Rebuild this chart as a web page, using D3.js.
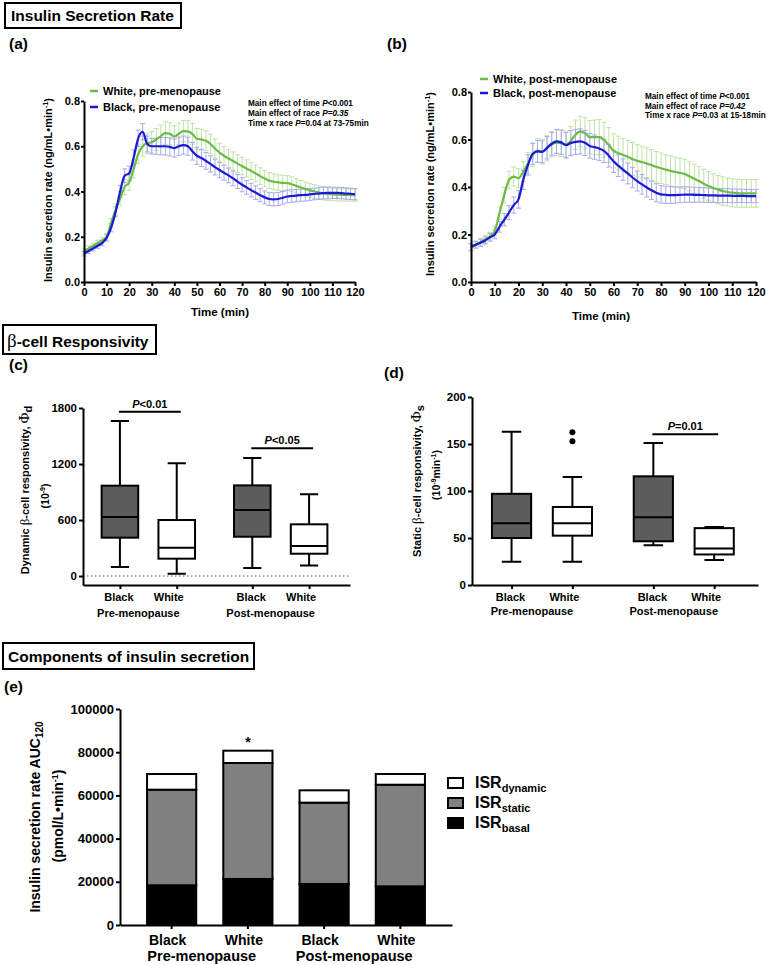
<!DOCTYPE html>
<html>
<head>
<meta charset="utf-8">
<script src="https://cdn.jsdelivr.net/npm/d3@7"></script>
<style>
body { margin: 0; background: #fff; }
</style>
</head>
<body>
<svg id="fig" width="774" height="965"></svg>
<script>

// ---- data ----
const times = [0,2,4,6,8,10,12,14,16,18,20,22,24,26,28,30,32,34,36,38,40,42,44,46,48,50,52,54,56,58,60,
  62,64,66,68,70,72,74,76,78,80,82,84,86,88,90,92,94,96,98,100,102,104,106,108,110,112,114,116,118,120];

// (a) pre-menopause, ng/mL/min, mean and SEM
const preWhite = [.135,.148,.160,.172,.184,.200,.260,.320,.370,.420,.440,.500,.565,.600,.613,.618,.630,.645,.658,.655,.643,
  .655,.667,.666,.655,.633,.630,.624,.610,.590,.572,.558,.546,.535,.523,.512,.502,.491,.480,.468,.457,
  .448,.443,.440,.438,.437,.432,.425,.418,.411,.405,.400,.396,.392,.389,.387,.386,.385,.385,.384,.384];
const preWhiteSem = [.012,.012,.012,.013,.013,.015,.020,.025,.030,.034,.036,.040,.042,.044,.046,.047,.048,.049,.050,.049,.048,
  .047,.047,.047,.046,.046,.045,.044,.043,.042,.041,.041,.040,.040,.039,.039,.038,.038,.037,.037,.036,
  .035,.035,.034,.034,.033,.033,.032,.031,.031,.030,.030,.029,.029,.028,.028,.028,.027,.027,.027,.027];
const preBlack = [.125,.137,.148,.160,.172,.195,.240,.310,.400,.470,.480,.550,.635,.664,.610,.600,.600,.600,.600,.597,.592,
  .600,.605,.600,.578,.558,.548,.535,.522,.508,.495,.483,.471,.458,.444,.430,.418,.406,.395,.384,.374,
  .367,.365,.367,.372,.378,.380,.382,.384,.385,.387,.389,.391,.393,.394,.394,.394,.393,.391,.390,.388];
const preBlackSem = [.010,.010,.011,.011,.012,.014,.018,.022,.027,.030,.032,.034,.036,.036,.035,.034,.036,.038,.039,.040,.040,
  .040,.040,.040,.039,.038,.038,.037,.036,.035,.034,.033,.032,.032,.031,.031,.030,.030,.030,.029,.029,
  .029,.029,.029,.028,.028,.028,.027,.027,.027,.026,.026,.026,.026,.026,.025,.025,.025,.025,.025,.025];

// (b) post-menopause
const postWhite = [.145,.157,.168,.180,.192,.215,.290,.366,.430,.444,.437,.465,.500,.535,.553,.549,.563,.580,.587,.584,.577,
  .594,.620,.634,.627,.610,.610,.610,.598,.577,.552,.543,.535,.527,.518,.510,.505,.499,.492,.485,.479,
  .473,.468,.463,.459,.455,.445,.435,.425,.414,.404,.396,.389,.383,.379,.376,.374,.373,.373,.373,.373];
const postWhiteSem = [.015,.015,.016,.016,.017,.020,.026,.032,.037,.040,.040,.042,.045,.048,.050,.052,.053,.054,.055,.056,.058,
  .060,.062,.064,.066,.070,.072,.074,.074,.073,.072,.071,.070,.070,.069,.068,.067,.066,.065,.064,.064,
  .063,.063,.062,.062,.062,.061,.061,.061,.061,.060,.060,.060,.060,.059,.059,.059,.058,.058,.058,.058];
const postBlack = [.148,.157,.165,.175,.188,.200,.232,.262,.292,.324,.348,.430,.493,.540,.550,.548,.565,.582,.592,.588,.577,
  .585,.590,.592,.586,.573,.568,.562,.552,.532,.508,.490,.473,.457,.440,.425,.411,.398,.386,.376,.369,
  .367,.366,.366,.367,.368,.368,.367,.367,.366,.365,.365,.364,.364,.364,.363,.363,.363,.362,.362,.362];
const postBlackSem = [.014,.014,.015,.015,.016,.018,.022,.026,.030,.034,.037,.040,.043,.045,.046,.046,.047,.048,.050,.051,.052,
  .053,.053,.053,.053,.052,.051,.050,.049,.048,.047,.046,.045,.044,.043,.042,.041,.040,.039,.038,.037,
  .036,.035,.034,.033,.033,.032,.032,.031,.031,.030,.030,.030,.029,.029,.029,.028,.028,.028,.028,.028];

// (c) and (d) box plots: Black pre, White pre, Black post, White post
const boxRace = ["Black", "White", "Black", "White"];
const boxStage = ["Pre-menopause", "Post-menopause"];
const dynMin = [96, 25, 86, 114];
const dynQ1  = [411, 186, 421, 239];
const dynMed = [632, 304, 707, 321];
const dynQ3  = [968, 600, 971, 554];
const dynMax = [1661, 1207, 1264, 875];
const statMin = [24.7, 24.7, 42.3, 26.5];
const statQ1  = [50, 52.5, 46.5, 32.5];
const statMed = [65.8, 65.8, 72, 38.8];
const statQ3  = [97, 83, 115.6, 60.5];
const statMax = [163, 115, 151, 61.6];
const statOutliers = [[], [152.8, 162.6], [], []];
const dynSig = [{a: 0, b: 1, y: 1760, txt: "<0.01"}, {a: 2, b: 3, y: 1368, txt: "<0.05"}];
const statSig = [{a: 2, b: 3, y: 160.5, txt: "=0.01"}];

// (e) AUC components, pmol/L/min
const barGroups = ["Black pre", "White pre", "Black post", "White post"];
const isrBasal   = [18400, 21300, 19000, 17900];
const isrStatic  = [44250, 53700, 37650, 47050];
const isrDynamic = [7250, 5700, 5700, 4950];

// ---- drawing ----
const FONT = "'Liberation Sans', Arial, sans-serif";
const SERIF = "'Liberation Serif', 'Times New Roman', serif";
const GREEN = "#6cbb45", GREEN_LT = "#bfe3a6";
const BLUE = "#1a1ad2", BLUE_LT = "#a8a8f2";

const svg = d3.select("#fig").attr("font-family", FONT);
svg.append("rect").attr("width", 774).attr("height", 965).attr("fill", "#fff");

function rich(sel, parts) {
    let shift = 0;
    parts.forEach(p => {
        let target = p.sub ? (p.shift || 3) : p.sup ? -(p.shift || 4) : 0;
        let ts = sel.append("tspan").text(p.t).attr("dy", target - shift);
        shift = target;
        if (p.size) ts.attr("font-size", p.size);
        if (p.italic) ts.attr("font-style", "italic");
        if (p.serif) ts.attr("font-family", SERIF);
        if (p.weight) ts.attr("font-weight", p.weight);
    });
    return sel;
}

function styleAxis(g, size) {
    g.attr("font-family", FONT);
    g.selectAll("path.domain").attr("stroke", "#000").attr("stroke-width", 2);
    g.selectAll(".tick line").attr("stroke", "#000").attr("stroke-width", 2);
    g.selectAll(".tick text").attr("fill", "#000").attr("font-weight", "bold").attr("font-size", size);
}

function titleBox(x, y, w, h, tx, ty, parts) {
    svg.append("rect").attr("x", x).attr("y", y).attr("width", w).attr("height", h)
        .attr("fill", "none").attr("stroke", "#000").attr("stroke-width", 2);
    rich(svg.append("text").attr("x", tx).attr("y", ty).attr("font-weight", "bold").attr("font-size", 15.5), parts);
}

function panelLabel(x, y, s) {
    svg.append("text").attr("x", x).attr("y", y).attr("font-weight", "bold").attr("font-size", 15.5).text(s);
}

function yTitle(x, cy, size, weight, parts) {
    rich(svg.append("text").attr("transform", `translate(${x},${cy}) rotate(-90)`)
        .attr("text-anchor", "middle").attr("font-size", size).attr("font-weight", weight), parts);
}

// ----- ISR time courses -----
function drawIsr(o) {
    let x = d3.scaleLinear().domain([0, 120]).range(o.xr);
    let y = d3.scaleLinear().domain([0, 0.8]).range(o.yr);
    let g = svg.append("g");

    o.series.forEach(s => {
        g.append("path").attr("fill", "none").attr("stroke", s.light).attr("stroke-width", 1)
            .attr("d", times.map((t, i) => {
                let xx = x(t), lo = y(s.mean[i] - s.sem[i]), hi = y(s.mean[i] + s.sem[i]);
                return `M${xx},${lo}V${hi}M${xx - 2.5},${lo}H${xx + 2.5}M${xx - 2.5},${hi}H${xx + 2.5}`;
            }).join(""));
    });
    o.series.forEach(s => {
        g.append("path").datum(s.mean).attr("fill", "none").attr("stroke", s.color).attr("stroke-width", 2.2)
            .attr("d", d3.line().x((d, i) => x(times[i])).y(d => y(d)).curve(d3.curveMonotoneX));
    });

    let ax = g.append("g").attr("transform", `translate(0,${o.yr[0]})`)
        .call(d3.axisBottom(x).tickValues(d3.range(0, 121, 10)).tickSize(4).tickSizeOuter(0).tickPadding(2));
    styleAxis(ax, 11);
    let ay = g.append("g").attr("transform", `translate(${o.xr[0]},0)`)
        .call(d3.axisLeft(y).tickValues([0, 0.2, 0.4, 0.6, 0.8]).tickFormat(d3.format(".1f"))
            .tickSize(3).tickSizeOuter(0).tickPadding(1));
    styleAxis(ay, 11);

    g.append("text").attr("x", o.timeX).attr("y", o.timeY).attr("text-anchor", "middle")
        .attr("font-weight", "bold").attr("font-size", 11.5).text("Time (min)");
    yTitle(o.titleX, o.titleY, 11, "bold", [{t: "Insulin secretion rate (ng/mL\u2022min"}, {t: "-1", sup: true, size: 7.5}, {t: ")"}]);

    // legend
    o.series.forEach((s, i) => {
        let ly = o.legY[i];
        g.append("line").attr("x1", o.legX).attr("x2", o.legX + 8).attr("y1", ly).attr("y2", ly)
            .attr("stroke", s.color).attr("stroke-width", 2.5);
        g.append("text").attr("x", o.legX + 13).attr("y", ly + 4).attr("font-weight", "bold")
            .attr("font-size", 11).text(s.name);
    });

    // statistics note
    o.notes.forEach((parts, i) => {
        rich(g.append("text").attr("x", o.noteX).attr("y", o.noteY[i]).attr("font-weight", "bold").attr("font-size", 8.2), parts);
    });
}

titleBox(5, 3, 176, 25, 11, 21, [{t: "Insulin Secretion Rate"}]);
panelLabel(9, 49, "(a)");
panelLabel(387, 49, "(b)");

drawIsr({
    xr: [84, 355], yr: [282, 101],
    series: [
        {name: "White, pre-menopause", mean: preWhite, sem: preWhiteSem, color: GREEN, light: GREEN_LT},
        {name: "Black, pre-menopause", mean: preBlack, sem: preBlackSem, color: BLUE, light: BLUE_LT}
    ],
    timeX: 220, timeY: 316, titleX: 52, titleY: 190,
    legX: 90, legY: [91, 107],
    noteX: 248, noteY: [106, 116, 126],
    notes: [
        [{t: "Main effect of time "}, {t: "P", italic: true}, {t: "<0.001"}],
        [{t: "Main effect of race "}, {t: "P=0.35", italic: true}],
        [{t: "Time x race "}, {t: "P", italic: true}, {t: "=0.04 at 73-75min"}]
    ]
});

drawIsr({
    xr: [471, 756], yr: [282, 92],
    series: [
        {name: "White, post-menopause", mean: postWhite, sem: postWhiteSem, color: GREEN, light: GREEN_LT},
        {name: "Black, post-menopause", mean: postBlack, sem: postBlackSem, color: BLUE, light: BLUE_LT}
    ],
    timeX: 601, timeY: 320, titleX: 434, titleY: 184,
    legX: 480, legY: [79, 93],
    noteX: 645, noteY: [99, 108.5, 118],
    notes: [
        [{t: "Main effect of time "}, {t: "P", italic: true}, {t: "<0.001"}],
        [{t: "Main effect of race "}, {t: "P=0.42", italic: true}],
        [{t: "Time x race "}, {t: "P", italic: true}, {t: "=0.03 at 15-18min"}]
    ]
});

// ----- box plots -----
const boxPos = [1, 2, 3.33, 4.33];

function drawBoxes(o) {
    let x = d3.scaleLinear().domain([0.35, 5.05]).range(o.xr);
    let y = d3.scaleLinear().domain(o.yDomain).range(o.yr);
    let g = svg.append("g");
    let half = 0.322, capHalf = 0.16;

    if (o.zeroLine) {
        g.append("line").attr("x1", o.xr[0]).attr("x2", o.xr[1]).attr("y1", y(0)).attr("y2", y(0))
            .attr("stroke", "#555").attr("stroke-width", 1).attr("stroke-dasharray", "1.5,2.5");
    }

    boxPos.forEach((p, i) => {
        let cx = x(p);
        let w = x(p + half) - cx, cw = x(p + capHalf) - cx;
        let fill = boxRace[i] === "Black" ? "#5c5c5c" : "#fff";
        g.append("path").attr("stroke", "#000").attr("stroke-width", 2).attr("fill", "none")
            .attr("d", `M${cx},${y(o.q3[i])}V${y(o.max[i])}M${cx - cw},${y(o.max[i])}H${cx + cw}` +
                `M${cx},${y(o.q1[i])}V${y(o.min[i])}M${cx - cw},${y(o.min[i])}H${cx + cw}`);
        g.append("rect").attr("x", cx - w).attr("width", 2 * w)
            .attr("y", y(o.q3[i])).attr("height", y(o.q1[i]) - y(o.q3[i]))
            .attr("fill", fill).attr("stroke", "#000").attr("stroke-width", 2);
        g.append("line").attr("x1", cx - w).attr("x2", cx + w).attr("y1", y(o.med[i])).attr("y2", y(o.med[i]))
            .attr("stroke", "#000").attr("stroke-width", 2);
        (o.outliers ? o.outliers[i] : []).forEach(v => {
            g.append("circle").attr("cx", cx).attr("cy", y(v)).attr("r", 3).attr("fill", "#000");
        });
        let off = boxRace[i] === "Black" ? -1 : -8;
        g.append("text").attr("x", cx + off).attr("y", 601).attr("text-anchor", "middle")
            .attr("font-weight", "bold").attr("font-size", 11).text(boxRace[i]);
    });

    boxStage.forEach((s, k) => {
        let mid = (x(boxPos[2 * k]) + x(boxPos[2 * k + 1])) / 2 - 10;
        g.append("text").attr("x", mid).attr("y", o.stageY).attr("text-anchor", "middle")
            .attr("font-weight", "bold").attr("font-size", 11).text(s);
    });

    o.sig.forEach(s => {
        let x1 = x(boxPos[s.a]) - 1, x2 = x(boxPos[s.b]) + 4;
        g.append("line").attr("x1", x1).attr("x2", x2).attr("y1", y(s.y)).attr("y2", y(s.y))
            .attr("stroke", "#000").attr("stroke-width", 2);
        rich(g.append("text").attr("x", (x1 + x2) / 2).attr("y", y(s.y) - 4).attr("text-anchor", "middle")
            .attr("font-weight", "bold").attr("font-size", 11), [{t: "P", italic: true}, {t: s.txt}]);
    });

    let ax = g.append("g").attr("transform", `translate(0,${o.yr[0]})`)
        .call(d3.axisBottom(x).tickValues(boxPos).tickFormat("").tickSize(4).tickSizeOuter(0));
    styleAxis(ax, 11);
    let ay = g.append("g").attr("transform", `translate(${o.xr[0]},0)`)
        .call(d3.axisLeft(y).tickValues(o.ticks).tickFormat(d3.format("d"))
            .tickSize(4).tickSizeOuter(0).tickPadding(2));
    styleAxis(ay, 11.5);
}

titleBox(3, 325, 153, 29, 7, 347, [{t: "\u03b2", serif: true, size: 19, weight: "normal"}, {t: "-cell Responsivity"}]);
panelLabel(9, 370, "(c)");
panelLabel(384, 378, "(d)");

drawBoxes({
    xr: [83, 350], yr: [585, 408], yDomain: [-96, 1800], ticks: [0, 600, 1200, 1800],
    min: dynMin, q1: dynQ1, med: dynMed, q3: dynQ3, max: dynMax,
    zeroLine: true, sig: dynSig, stageY: 617
});
yTitle(29, 490, 11, "bold", [{t: "Dynamic "}, {t: "\u03b2", serif: true, size: 13, weight: "normal"}, {t: "-cell responsivity, "},
    {t: "\u03a6", serif: true, size: 15, weight: "normal"}, {t: "d", sub: true, size: 11}]);
yTitle(49, 496, 10.5, "bold", [{t: "(10"}, {t: "-9", sup: true, size: 7}, {t: ")"}]);

drawBoxes({
    xr: [472, 758], yr: [585, 397], yDomain: [0, 200], ticks: [0, 50, 100, 150, 200],
    min: statMin, q1: statQ1, med: statMed, q3: statQ3, max: statMax, outliers: statOutliers,
    zeroLine: false, sig: statSig, stageY: 615
});
yTitle(421, 481, 11, "bold", [{t: "Static "}, {t: "\u03b2", serif: true, size: 13, weight: "normal"}, {t: "-cell responsivity, "},
    {t: "\u03a6", serif: true, size: 15, weight: "normal"}, {t: "s", sub: true, size: 11}]);
yTitle(440, 475, 10.5, "bold", [{t: "(10"}, {t: "-9", sup: true, size: 7}, {t: "min"}, {t: "-1", sup: true, size: 7}, {t: ")"}]);

// ----- stacked bars -----
titleBox(3, 643, 251, 26, 8, 662, [{t: "Components of insulin secretion"}]);
panelLabel(4, 692, "(e)");

const barRows = barGroups.map((k, i) => ({group: k, basal: isrBasal[i], static: isrStatic[i], dynamic: isrDynamic[i]}));
const barKeys = ["basal", "static", "dynamic"];
const barFill = {basal: "#000", static: "#808080", dynamic: "#fff"};
const stacked = d3.stack().keys(barKeys)(barRows);

const xE = d3.scaleBand().domain(barGroups).range([120, 452]).paddingInner(0.355).paddingOuter(0.355);
const yE = d3.scaleLinear().domain([0, 100000]).range([925, 709]);
const gE = svg.append("g");

stacked.forEach(layer => {
    gE.selectAll(null).data(layer).enter().append("rect")
        .attr("x", d => xE(d.data.group))
        .attr("width", xE.bandwidth())
        .attr("y", d => yE(d[1]))
        .attr("height", d => yE(d[0]) - yE(d[1]))
        .attr("fill", barFill[layer.key])
        .attr("stroke", "#000").attr("stroke-width", 2);
});

let topWhite = stacked[2][1];
gE.append("text").attr("x", xE(barGroups[1]) + xE.bandwidth() / 2).attr("y", yE(topWhite[1]) - 4)
    .attr("text-anchor", "middle").attr("font-weight", "bold").attr("font-size", 14).text("*");

let axE = gE.append("g").attr("transform", "translate(0,925)")
    .call(d3.axisBottom(xE).tickFormat("").tickSize(4).tickSizeOuter(0));
styleAxis(axE, 13);
let ayE = gE.append("g").attr("transform", "translate(120,0)")
    .call(d3.axisLeft(yE).tickValues(d3.range(0, 100001, 20000)).tickFormat(d3.format("d"))
        .tickSize(4).tickSizeOuter(0).tickPadding(2));
styleAxis(ayE, 13);

barGroups.forEach((k, i) => {
    gE.append("text").attr("x", xE(k) + xE.bandwidth() / 2 - 4).attr("y", 945).attr("text-anchor", "middle")
        .attr("font-weight", "bold").attr("font-size", 14).text(boxRace[i]);
});
boxStage.forEach((s, k) => {
    let mid = (xE(barGroups[2 * k]) + xE(barGroups[2 * k + 1]) + xE.bandwidth()) / 2 - 8;
    gE.append("text").attr("x", mid).attr("y", 961).attr("text-anchor", "middle")
        .attr("font-weight", "bold").attr("font-size", 14.5).text(s);
});

yTitle(40, 817, 14, "bold", [{t: "Insulin secretion rate AUC"}, {t: "120", sub: true, size: 10}]);
yTitle(63, 816, 14, "bold", [{t: "(pmol/L\u2022min"}, {t: "-1", sup: true, size: 9, shift: 5}, {t: ")"}]);

// legend (e)
const legNames = {dynamic: "dynamic", static: "static", basal: "basal"};
["dynamic", "static", "basal"].forEach((k, i) => {
    let ly = 783 + i * 20;
    gE.append("rect").attr("x", 448).attr("y", ly - 5).attr("width", 15).attr("height", 10)
        .attr("fill", barFill[k]).attr("stroke", "#000").attr("stroke-width", 2);
    rich(gE.append("text").attr("x", 475).attr("y", ly + 5).attr("font-weight", "bold").attr("font-size", 16),
        [{t: "ISR"}, {t: legNames[k], sub: true, size: 11, shift: 4}]);
});

</script>
</body>
</html>
